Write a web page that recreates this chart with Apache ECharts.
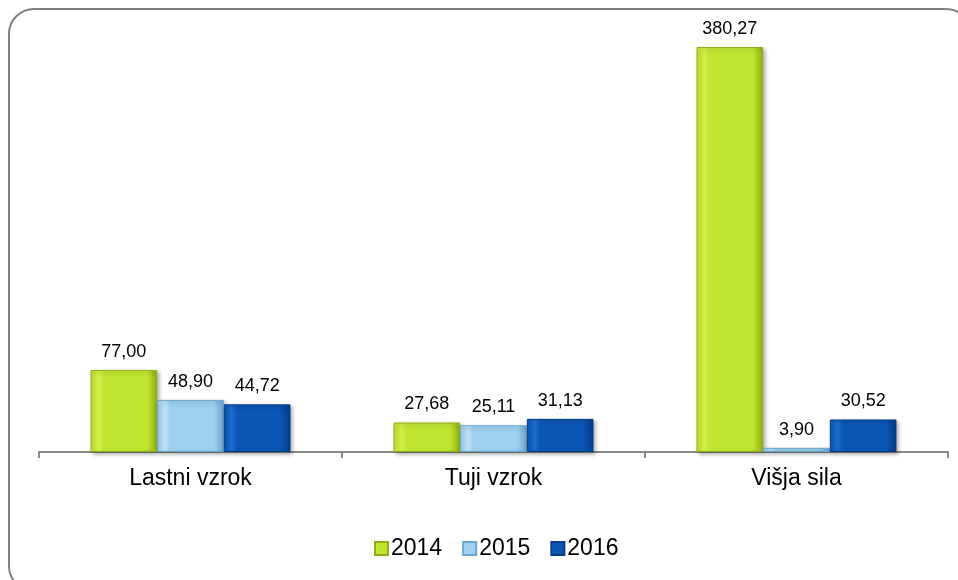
<!DOCTYPE html>
<html>
<head>
<meta charset="utf-8">
<script src="https://cdn.jsdelivr.net/npm/echarts@6/dist/echarts.min.js"></script>
<style>
* { margin: 0; padding: 0; }
#chart-container { width: 958px; height: 580px; background: #fff; }
</style>
</head>
<body>
<div id="chart-container"></div>
<script>
const categories = ['Lastni vzrok', 'Tuji vzrok', 'Višja sila']
const years = ['2014', '2015', '2016']
const values2014 = [77.00, 27.68, 380.27]
const values2015 = [48.90, 25.11, 3.90]
const values2016 = [44.72, 31.13, 30.52]

const colors = [
  { light: '#d4f04a', mid: '#bfe52f', dark: '#8fae16' },
  { light: '#bfe3f8', mid: '#9dd0ef', dark: '#6aa6cf' },
  { light: '#1a6fd0', mid: '#0b55b5', dark: '#053a85' }
]

const fontFamily = 'Liberation Sans, Arial, sans-serif'
const fmt = (v) => v.toFixed(2).replace('.', ',')

const makeSeries = (name, data, c) => ({
  name: name,
  type: 'bar',
  data: data,
  barGap: '0%',
  barCategoryGap: '34%',
  itemStyle: {
    color: {
      type: 'linear', x: 0, y: 0, x2: 1, y2: 0,
      colorStops: [
        { offset: 0, color: c.mid },
        { offset: 0.12, color: c.light },
        { offset: 0.2, color: c.mid },
        { offset: 0.85, color: c.mid },
        { offset: 1, color: c.dark }
      ]
    },
    borderColor: c.dark,
    borderWidth: 1,
    shadowBlur: 4,
    shadowOffsetX: 2,
    shadowOffsetY: 2,
    shadowColor: 'rgba(0,0,0,0.3)'
  },
  label: {
    show: true,
    position: 'top',
    distance: 9,
    color: '#000',
    fontFamily: fontFamily,
    fontSize: 18,
    formatter: (p) => fmt(p.value)
  }
})

const chart = echarts.init(document.getElementById('chart-container'))
chart.setOption({
  animation: false,
  graphic: [{
    type: 'rect',
    shape: { x: 9, y: 9, width: 962, height: 582, r: 25 },
    style: { fill: 'none', stroke: '#808080', lineWidth: 2 }
  }],
  legend: {
    bottom: 15,
    left: 369,
    itemWidth: 13,
    itemHeight: 13,
    itemGap: 20,
    icon: 'rect',
    textStyle: { fontFamily: fontFamily, fontSize: 23, color: '#000', padding: [0, 0, 0, -2] },
    data: years
  },
  grid: { left: 39, right: 10, top: 26, bottom: 128 },
  xAxis: {
    type: 'category',
    data: categories,
    axisLine: { lineStyle: { color: '#898989', width: 2 } },
    axisTick: { show: true, length: 6, lineStyle: { color: '#898989', width: 2 } },
    axisLabel: { fontFamily: fontFamily, fontSize: 23, color: '#000', margin: 15 }
  },
  yAxis: {
    type: 'value',
    min: 0,
    max: 400,
    show: false,
    splitLine: { show: false }
  },
  series: [
    makeSeries(years[0], values2014, colors[0]),
    makeSeries(years[1], values2015, colors[1]),
    makeSeries(years[2], values2016, colors[2])
  ]
})
</script>
</body>
</html>
